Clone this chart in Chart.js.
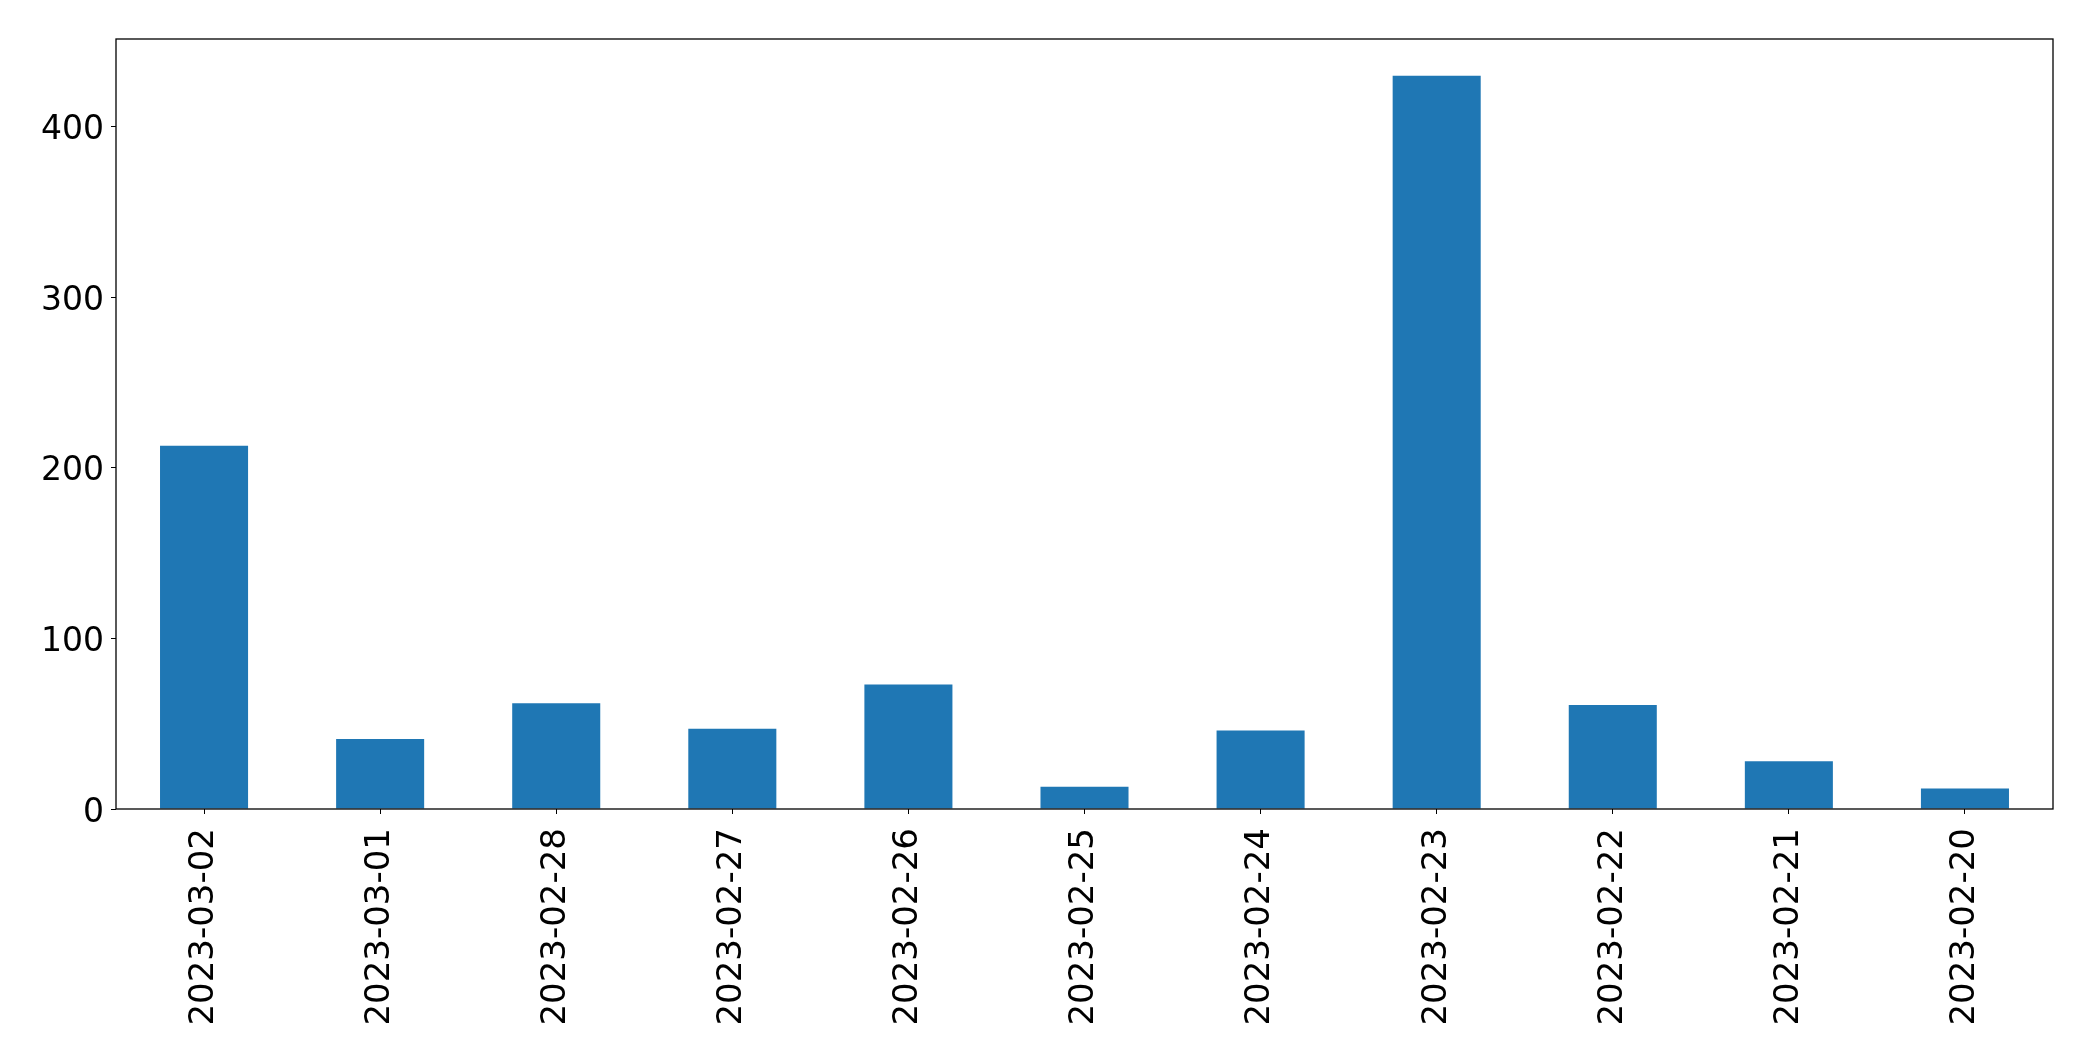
<!DOCTYPE html>
<html>
<head>
<meta charset="utf-8">
<script src="https://cdn.jsdelivr.net/npm/chart.js@4.4.0/dist/chart.umd.min.js"></script>
<style>
  html, body { margin: 0; padding: 0; background: #fff; }
  #wrap { width: 2093px; height: 1061px; }
</style>
</head>
<body>
<div id="wrap"><canvas id="chart"></canvas></div>
<script>
const dates = ['2023-03-02', '2023-03-01', '2023-02-28', '2023-02-27', '2023-02-26', '2023-02-25',
               '2023-02-24', '2023-02-23', '2023-02-22', '2023-02-21', '2023-02-20'];
const counts = [213, 41, 62, 47, 73, 13, 46, 430, 61, 28, 12];
const yTicks = [0, 100, 200, 300, 400];

// frame round the plot area, like matplotlib's spines
const frame = {
    id: 'frame',
    afterDraw(chart) {
        const a = chart.chartArea;
        const ctx = chart.ctx;
        ctx.save();
        ctx.strokeStyle = '#000';
        ctx.lineWidth = 1.3;
        ctx.strokeRect(a.left, a.top, a.right - a.left, a.bottom - a.top);
        ctx.restore();
    }
};

new Chart(document.getElementById('chart'), {
    type: 'bar',
    data: {
        labels: dates,
        datasets: [{
            data: counts,
            backgroundColor: '#1f77b4',
            borderWidth: 0,
            barPercentage: 0.5,
            categoryPercentage: 1.0
        }]
    },
    options: {
        responsive: true,
        maintainAspectRatio: false,
        animation: false,
        layout: { padding: { top: 39, right: 40, left: 0, bottom: 0 } },
        plugins: { legend: { display: false }, tooltip: { enabled: false } },
        scales: {
            x: {
                offset: true,
                grid: { display: true, drawOnChartArea: false, drawTicks: true, tickLength: 5, color: '#000', offset: false },
                border: { display: false },
                ticks: {
                    color: '#000', font: { family: '"DejaVu Sans", sans-serif', size: 34 },
                    maxRotation: 90, minRotation: 90, padding: 14, autoSkip: false
                },
                afterFit(scale) { scale.height = 252; }
            },
            y: {
                min: 0,
                max: 451.5,
                grid: { display: true, drawOnChartArea: false, drawTicks: true, tickLength: 5, color: '#000' },
                border: { display: false },
                ticks: {
                    color: '#000', font: { family: '"DejaVu Sans", sans-serif', size: 33 },
                    stepSize: 100, includeBounds: false, padding: 7, labelOffset: 4
                },
                afterBuildTicks(scale) { scale.ticks = yTicks.map(v => ({ value: v })); },
                afterFit(scale) { scale.width = 116; }
            }
        }
    },
    plugins: [frame]
});
</script>
</body>
</html>
